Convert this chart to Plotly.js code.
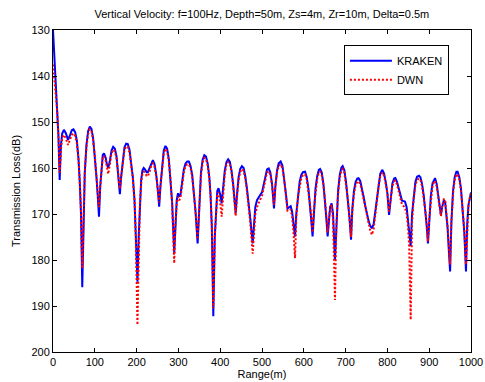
<!DOCTYPE html>
<html>
<head>
<meta charset="utf-8">
<script src="https://cdn.plot.ly/plotly-3.0.1.min.js"></script>
<style>html,body{margin:0;padding:0;background:#fff;}#chart{width:485px;height:382px;}</style>
</head>
<body>
<div id="chart"></div>
<script>
// Range (m)
const rangeM = [0,2,4,7,10,13,16,19,22,26,31,36,41,45,49,53,57,61,64,67,70,73,76,80,84,88,92,96,100,104,107,110,113,116,119,122,126,129,132,136,140,144,148,152,156,160,163,167,171,175,179,183,187,191,195,198,202,205,208,211,214,217,220,224,227,231,235,239,243,247,251,254,257,261,265,269,273,277,281,285,290,293,296,299,302,305,309,313,317,321,325,329,333,337,341,346,350,354,358,362,366,370,374,377,380,383.5,387,390,393,396,400,403.5,407,411,415,419,423,427,431,434,437,440,444,448,452,456,460,464,468,472,477.7,481,484,488,492,496,500,504,508,512,516,520,524,528.7,532,536,540,544.7,549,553,557,561,565,568.6,572,575,579,582,586,590,594,598,603,607,611,615,618,621,624,628,632,636,639,643,647,651,654,657,660,663,666.6,670,674.6,678,682,686,690,693,697,701,705,709,713,716,720,724,728,731,735,739,743,747,751,755,759,763,767,771,775,779,783,788,792,796,800,804,808,812,816,819,823,827,831,835,839,842,846,849,852,855.7,859,863,867,871,875.6,879,883,887,891,894,897,900,904,908,912,914,918,922,925,928,931,935,938,941,944,947,950,953,957,961,965,968,972,976,980,984,988,991,994,997,1000];

// KRAKEN transmission loss (dB)
const kraken = [130,134,138.5,143,147,153,162.6,155,152.5,151.7,152.5,153.9,152.8,151.8,151.6,152.2,154,158,163,170,185.9,170,161,155,152,151,151.5,153.5,157,162,166,170.6,164,159.5,157.2,156.8,157.8,159.2,160,158.5,156.2,155.4,155.8,157.5,161,165.7,162,158,155.5,154.7,154.8,156,158.5,162,167,174,184.7,175,167,162.5,160.5,160,160.3,160.9,160.9,160,158.8,158.3,159.2,161.5,165,168.4,164,159,156.2,155.2,155.8,158,162,167.5,178.5,171,167,165.5,166.2,165.8,163,160.3,159,158.6,158.6,159.5,161.5,165,169.5,176.4,167,161,158.2,157.2,157.5,159,162,166,173,192.2,175,168,165,164.4,165.8,167.7,164,160.5,158.7,158.1,158.6,160.5,163.5,167,169.8,166,162,160.2,159.6,160,161.8,164.5,167.5,171,176.4,171,168.5,167,166.3,165.8,165.3,163.5,161.5,160.3,160.1,161,163.5,168.8,164,160.5,159,158.6,159.5,162,165.5,168.8,168.5,168.3,169.5,172,174.9,170,165.5,163,161.5,160.9,160.8,162,164.5,168,171.5,174.9,169,164.5,161.8,160.4,160.2,161,163.5,167,171,174.9,171,168.5,167.7,170,180,171,165,161.5,159.9,159.6,160.5,163,166.5,170.5,175.6,169,165,163,162.3,162.2,162.8,164.3,166.2,168.2,170,171.5,172.6,173.1,172.2,169.5,166,163,161.2,160.4,161.2,163,165.5,170.2,166,163.3,162.3,162.2,163,164.6,166.2,167.1,167.2,167.3,168.5,171,174.5,177,170,165.5,163,161.9,161.7,162,163.5,166,169.5,172.5,176.4,171,166,163.3,162.3,162.2,163.5,166,168.5,170.2,168.5,167,167.3,169.5,173,178,182.5,172,165,162,160.8,160.8,162,164.5,168.5,174,182.5,172,168,166.2,165.3];

// DWN transmission loss (dB)
const dwn = [137.5,139.5,141,143.5,147.5,153,161,156,153.5,152.8,153.6,155,153.8,152.8,152.5,153,154.6,158.3,163,169.5,181.8,169,161,155.5,152.6,151.6,152,154,157.2,162,165.5,168.5,164,160,157.8,157.4,158.4,159.8,161.3,159.3,156.8,156,156.4,158,161.3,164.5,162,158.4,156,155.3,155.4,156.6,159,162.3,167,174.5,194.1,176,167.5,163.2,161.2,160.8,161,161.7,161.8,160.8,159.5,159,159.8,161.8,164.8,167.5,164,159.5,156.8,155.8,156.4,158.4,162.2,167.8,180.7,172,167.8,166.3,167,166.5,163.7,161,159.6,159.2,159.2,160,161.9,165.2,169.5,175.5,167.5,161.6,158.8,157.8,158.1,159.5,162.3,166,172.5,190.5,175,168.5,165.8,165.3,167.5,170.6,165,161.3,159.3,158.7,159.2,160.9,163.8,167.2,170.4,166.5,162.6,160.8,160.2,160.6,162.3,165,168.2,172,178.6,173,170,168.5,167.5,166.8,166,164.2,162.2,161,160.7,161.5,163.6,168,164,161,159.6,159.2,160.1,162.4,165.8,169.3,169.3,169,170.5,173.5,179.6,171,166.3,163.8,162.2,161.5,161.4,162.5,164.8,168,171,174,169,165,162.4,161,160.8,161.6,163.8,167,170.5,174,171,168.8,168,171.5,188.7,172,165.8,162.2,160.5,160.2,161,163.3,166.5,170.3,175,169.5,165.7,163.7,163,162.9,163.5,165,166.8,168.8,170.7,172.3,173.6,174.5,173.3,170.3,166.7,163.7,161.8,161,161.7,163.3,165.5,169.5,166.3,163.9,162.9,162.8,163.6,165.3,167,168,168.3,168.6,170,172.5,177,193,172,166.5,163.8,162.6,162.3,162.6,164,166.3,169.5,172.5,176,171,166.5,163.9,162.9,162.8,164,166.3,168.6,170.5,168.3,166.8,166.8,169.3,172.5,177,181,172,165.6,162.6,161.4,161.4,162.5,164.8,168.5,173.5,181,172,168.2,166.5,165.6];

const xTicks = [0,100,200,300,400,500,600,700,800,900,1000];
const yTicks = [130,140,150,160,170,180,190,200];

const font = {family: 'Liberation Sans, Arial, sans-serif', size: 11, color: '#000'};

const traces = [
  {x: rangeM, y: kraken, name: 'KRAKEN', type: 'scatter', mode: 'lines',
   line: {color: '#0000ff', width: 2}},
  {x: rangeM, y: dwn, name: 'DWN', type: 'scatter', mode: 'lines',
   line: {color: '#ff0000', width: 2, dash: '2px,2px'}}
];

const axisCommon = {
  showgrid: false, zeroline: false, showline: true, linecolor: '#000', linewidth: 1,
  mirror: 'ticks', ticks: 'inside', ticklen: 4, tickcolor: '#000', tickwidth: 1,
  tickfont: font
};

const layout = {
  width: 485, height: 382,
  margin: {l: 53, r: 14, t: 30, b: 30},
  paper_bgcolor: '#fff', plot_bgcolor: '#fff',
  font: font,
  title: {text: 'Vertical Velocity: f=100Hz, Depth=50m, Zs=4m, Zr=10m, Delta=0.5m',
          font: font, x: 0.54, xanchor: 'center', y: 0.962, yanchor: 'middle'},
  xaxis: Object.assign({}, axisCommon, {
    range: [0, 1000], tickvals: xTicks, ticktext: xTicks.map(String),
    title: {text: 'Range(m)', font: font, standoff: 2}
  }),
  yaxis: Object.assign({}, axisCommon, {
    range: [200, 130], tickvals: yTicks, ticktext: yTicks.map(String),
    title: {text: 'Transmission Loss(dB)', font: font, standoff: 8}
  }),
  showlegend: true,
  legend: {x: 0.696, y: 0.953, xanchor: 'left', yanchor: 'top',
           bgcolor: '#fff', bordercolor: '#000', borderwidth: 1,
           font: font, tracegroupgap: 0, itemwidth: 42}
};

Plotly.newPlot('chart', traces, layout, {displayModeBar: false, staticPlot: true});
</script>
</body>
</html>
